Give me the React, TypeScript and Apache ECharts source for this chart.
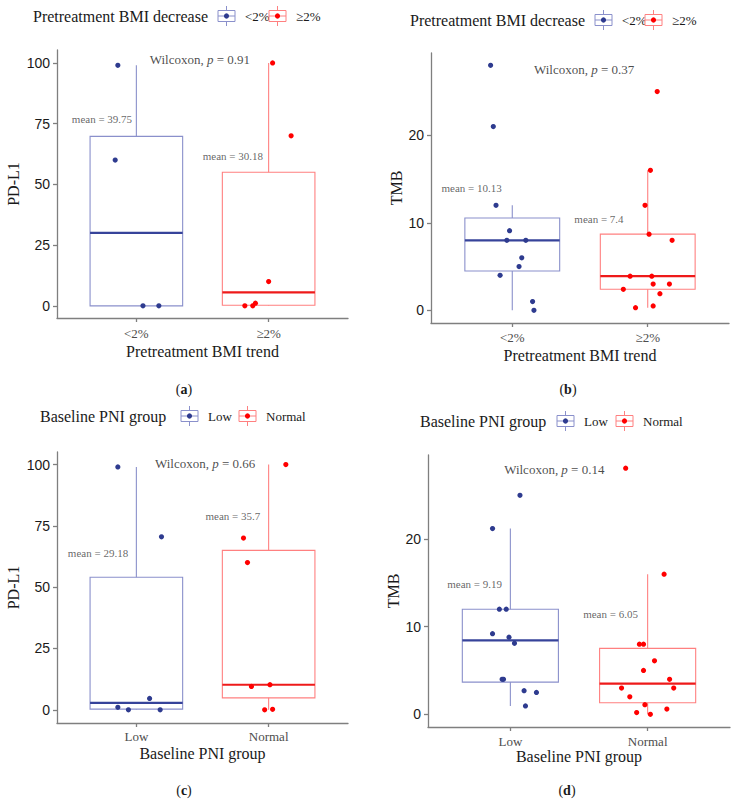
import React, { useEffect, useRef } from 'react';
import * as echarts from 'echarts';

// ---------- data ----------
const bmiCategories = ['<2%', '≥2%'];
const pniCategories = ['Low', 'Normal'];
const pdl1Ticks = [0, 25, 50, 75, 100];
const tmbTicks = [0, 10, 20];

// (a) PD-L1 by pretreatment BMI trend
const pdl1BmiLow = [99, 60, 0, 0];
const pdl1BmiLowJitter = [-0.14, -0.16, 0.05, 0.17];
const pdl1BmiHigh = [100, 70, 10, 0, 0, 1.1];
const pdl1BmiHighJitter = [0.03, 0.17, 0.0, -0.18, -0.12, -0.1];

// (b) TMB by pretreatment BMI trend
const tmbBmiLow = [28, 21, 12, 9.1, 8, 8, 6, 5, 4, 1, 0];
const tmbBmiLowJitter = [-0.16, -0.14, -0.12, -0.02, -0.04, 0.1, 0.07, 0.05, -0.09, 0.15, 0.16];
const tmbBmiHigh = [25, 16, 12, 8.7, 8, 3.9, 3.9, 3, 3, 2.4, 1.9, 0.5, 0.3];
const tmbBmiHighJitter = [0.07, 0.02, -0.02, 0.01, 0.18, -0.13, 0.03, 0.04, 0.16, -0.18, 0.09, 0.04, -0.09];

// (c) PD-L1 by baseline PNI group
const pdl1PniLow = [99, 70.5, 1, 0, 4.6, 0];
const pdl1PniLowJitter = [-0.14, 0.19, -0.14, -0.06, 0.1, 0.18];
const pdl1PniNormal = [100, 70, 60, 9.5, 10.2, 0, 0.2];
const pdl1PniNormalJitter = [0.13, -0.19, -0.16, -0.13, 0.01, -0.03, 0.03];

// (d) TMB by baseline PNI group
const tmbPniLow = [25, 21.2, 12, 12, 9.2, 8.8, 8.1, 4, 4, 2.7, 2.5, 0.95];
const tmbPniLowJitter = [0.07, -0.13, -0.08, -0.03, -0.13, -0.01, 0.03, -0.06, -0.05, 0.1, 0.19, 0.11];
const tmbPniNormal = [28.1, 16, 8, 8, 6.1, 5, 4, 3, 3, 2, 1.1, 0.6, 0.2, 0];
const tmbPniNormalJitter = [-0.16, 0.12, -0.06, -0.03, 0.05, -0.03, 0.16, -0.19, 0.19, -0.13, -0.02, 0.14, -0.08, 0.02];

const meanLabels = [
  ['mean = 39.75', 'mean = 30.18'],
  ['mean = 10.13', 'mean = 7.4'],
  ['mean = 29.18', 'mean = 35.7'],
  ['mean = 9.19', 'mean = 6.05'],
];
const pValues = ['0.91', '0.37', '0.66', '0.14'];

// ---------- styles ----------
const SERIF = '"Liberation Serif", "Times New Roman", serif';
const SANS = '"Liberation Sans", Arial, sans-serif';
const AXIS_GRAY = '#7f7f7f';
const palette = [
  { dark: '#2E3B8F', light: '#8A90CB', med: '#36439A' },
  { dark: '#FF0000', light: '#FF8080', med: '#EE1A1A' },
];

function quantile(sorted: number[], p: number) {
  const h = (sorted.length - 1) * p;
  const lo = Math.floor(h);
  const hi = Math.min(lo + 1, sorted.length - 1);
  return sorted[lo] + (h - lo) * (sorted[hi] - sorted[lo]);
}
function boxStats(values: number[]) {
  const s = [...values].sort((a, b) => a - b);
  const q1 = quantile(s, 0.25);
  const med = quantile(s, 0.5);
  const q3 = quantile(s, 0.75);
  const iqr = q3 - q1;
  const lo = Math.min(...s.filter((v) => v >= q1 - 1.5 * iqr));
  const hi = Math.max(...s.filter((v) => v <= q3 + 1.5 * iqr));
  return [lo, q1, med, q3, hi];
}

interface Panel {
  grid: any;
  cats: string[];
  groups: { values: number[]; jitter: number[] }[];
  yMin: number;
  yMax: number;
  ticks: number[];
  yName: string;
  xName: string;
  yNameGap: number;
  xNameGap: number;
  labelMargin: number;
  meanPos: number[][];
  wilcoxPos: number[];
}

const panels: Panel[] = [
  {
    grid: { left: 57, top: 50, width: 291, height: 268 },
    cats: bmiCategories,
    groups: [
      { values: pdl1BmiLow, jitter: pdl1BmiLowJitter },
      { values: pdl1BmiHigh, jitter: pdl1BmiHighJitter },
    ],
    yMin: -5, yMax: 105.3, ticks: pdl1Ticks,
    yName: 'PD-L1', xName: 'Pretreatment BMI trend',
    yNameGap: 36, xNameGap: 25, labelMargin: 9,
    meanPos: [[0.74, 77], [1.73, 61.8]],
    wilcoxPos: [1.48, 101.5],
  },
  {
    grid: { left: 431, top: 53, width: 298, height: 270 },
    cats: bmiCategories,
    groups: [
      { values: tmbBmiLow, jitter: tmbBmiLowJitter },
      { values: tmbBmiHigh, jitter: tmbBmiHighJitter },
    ],
    yMin: -1.45, yMax: 29.4, ticks: tmbTicks,
    yName: 'TMB', xName: 'Pretreatment BMI trend',
    yNameGap: 27, xNameGap: 24, labelMargin: 8,
    meanPos: [[0.7, 14.0], [1.64, 10.4]],
    wilcoxPos: [1.53, 27.5],
  },
  {
    grid: { left: 57, top: 452, width: 291, height: 271 },
    cats: pniCategories,
    groups: [
      { values: pdl1PniLow, jitter: pdl1PniLowJitter },
      { values: pdl1PniNormal, jitter: pdl1PniNormalJitter },
    ],
    yMin: -5.4, yMax: 105.1, ticks: pdl1Ticks,
    yName: 'PD-L1', xName: 'Baseline PNI group',
    yNameGap: 36, xNameGap: 22, labelMargin: 7,
    meanPos: [[0.71, 63.8], [1.73, 79]],
    wilcoxPos: [1.52, 100.5],
  },
  {
    grid: { left: 428, top: 455, width: 302, height: 272 },
    cats: pniCategories,
    groups: [
      { values: tmbPniLow, jitter: tmbPniLowJitter },
      { values: tmbPniNormal, jitter: tmbPniNormalJitter },
    ],
    yMin: -1.45, yMax: 29.6, ticks: tmbTicks,
    yName: 'TMB', xName: 'Baseline PNI group',
    yNameGap: 27, xNameGap: 20, labelMargin: 8,
    meanPos: [[0.74, 14.9], [1.73, 11.4]],
    wilcoxPos: [1.32, 28.0],
  },
];

function legendGraphic(left: number, cy: number, title: string, items: { x: number; label: string; ci: number }[]) {
  const children: any[] = [
    {
      type: 'text', x: left, y: cy,
      style: { text: title, font: `16px ${SERIF}`, fill: '#1a1a1a', verticalAlign: 'middle', align: 'left' },
    },
  ];
  items.forEach((it) => {
    const c = palette[it.ci];
    const w = 17, h = 11;
    const cx = it.x + w / 2;
    children.push(
      { type: 'line', shape: { x1: cx, y1: cy - 10, x2: cx, y2: cy + 10 }, style: { stroke: c.light, lineWidth: 1 } },
      { type: 'rect', shape: { x: it.x, y: cy - h / 2, width: w, height: h }, style: { fill: '#fff', stroke: c.light, lineWidth: 1 } },
      { type: 'line', shape: { x1: it.x, y1: cy, x2: it.x + w, y2: cy }, style: { stroke: c.light, lineWidth: 1 } },
      { type: 'circle', shape: { cx, cy, r: 2.6 }, style: { fill: c.dark } },
      {
        type: 'text', x: it.x + w + 10, y: cy,
        style: { text: it.label, font: `13px ${SERIF}`, fill: '#1a1a1a', verticalAlign: 'middle', align: 'left' },
      },
    );
  });
  return { type: 'group', children };
}

function panelLabel(cx: number, cy: number, letter: string) {
  return {
    type: 'text', x: cx, y: cy,
    style: {
      text: `({b|${letter}})`,
      font: `14px ${SERIF}`, fill: '#1a1a1a', align: 'center', verticalAlign: 'middle',
      rich: { b: { fontFamily: SERIF, fontSize: 14, fontWeight: 'bold', fill: '#1a1a1a' } },
    },
  };
}

function buildOption() {
  const grid: any[] = [];
  const xAxis: any[] = [];
  const yAxis: any[] = [];
  const series: any[] = [];

  panels.forEach((p, k) => {
    grid.push({ ...p.grid, containLabel: false });
    xAxis.push({
      gridIndex: k, type: 'value', min: 0.4, max: 2.6,
      splitLine: { show: false },
      axisLine: { show: true, onZero: false, lineStyle: { color: AXIS_GRAY, width: 1.3 } },
      axisTick: { show: true, customValues: [1, 2], length: 4, lineStyle: { color: AXIS_GRAY, width: 1.3 } },
      axisLabel: {
        customValues: [1, 2], formatter: (v: number) => p.cats[Math.round(v) - 1] ?? '',
        fontFamily: SERIF, fontSize: 13, color: '#4d4d4d', margin: p.labelMargin,
      },
      name: p.xName, nameLocation: 'middle', nameGap: p.xNameGap,
      nameTextStyle: { fontFamily: SERIF, fontSize: 16, color: '#1a1a1a' },
    });
    yAxis.push({
      gridIndex: k, type: 'value', min: p.yMin, max: p.yMax,
      splitLine: { show: false },
      axisLine: { show: true, onZero: false, lineStyle: { color: AXIS_GRAY, width: 1.3 } },
      axisTick: { show: true, customValues: p.ticks, length: 4, lineStyle: { color: AXIS_GRAY, width: 1.3 } },
      axisLabel: {
        customValues: p.ticks, fontFamily: SANS, fontSize: 14, color: '#1a1a1a', margin: 7,
      },
      name: p.yName, nameLocation: 'middle', nameGap: p.yNameGap, nameRotate: 90,
      nameTextStyle: { fontFamily: SERIF, fontSize: 16, color: '#1a1a1a' },
    });

    p.groups.forEach((g, gi) => {
      const c = palette[gi];
      const st = boxStats(g.values);
      series.push({
        type: 'custom', xAxisIndex: k, yAxisIndex: k, z: 1,
        encode: { x: 0, y: [1, 2, 3, 4, 5] },
        data: [[gi + 1, ...st]],
        renderItem: (_params: any, api: any) => {
          const x = api.value(0);
          const lo = api.value(1), q1 = api.value(2), med = api.value(3), q3 = api.value(4), hi = api.value(5);
          const half = 0.35;
          const tl = api.coord([x - half, q3]);
          const br = api.coord([x + half, q1]);
          const ml = api.coord([x - half, med]);
          const mr = api.coord([x + half, med]);
          const pHi = api.coord([x, hi]);
          const pQ3 = api.coord([x, q3]);
          const pQ1 = api.coord([x, q1]);
          const pLo = api.coord([x, lo]);
          return {
            type: 'group',
            children: [
              { type: 'line', shape: { x1: pHi[0], y1: pHi[1], x2: pQ3[0], y2: pQ3[1] }, style: { stroke: c.light, lineWidth: 1.1 } },
              { type: 'line', shape: { x1: pQ1[0], y1: pQ1[1], x2: pLo[0], y2: pLo[1] }, style: { stroke: c.light, lineWidth: 1.1 } },
              { type: 'rect', shape: { x: tl[0], y: tl[1], width: br[0] - tl[0], height: br[1] - tl[1] }, style: { fill: 'none', stroke: c.light, lineWidth: 1.1 } },
              { type: 'line', shape: { x1: ml[0], y1: ml[1], x2: mr[0], y2: mr[1] }, style: { stroke: c.med, lineWidth: 2.2 } },
            ],
          };
        },
      });
      series.push({
        type: 'scatter', xAxisIndex: k, yAxisIndex: k, z: 3,
        symbolSize: 5.2,
        itemStyle: { color: c.dark, opacity: 1 },
        data: g.values.map((v, i) => [gi + 1 + g.jitter[i], v]),
      });
    });

    // annotation texts
    series.push({
      type: 'scatter', xAxisIndex: k, yAxisIndex: k, z: 4,
      symbolSize: 1, itemStyle: { color: 'transparent' },
      data: [
        {
          value: p.meanPos[0],
          label: { show: true, position: 'inside', formatter: meanLabels[k][0], fontFamily: SERIF, fontSize: 11, color: '#404040' },
        },
        {
          value: p.meanPos[1],
          label: { show: true, position: 'inside', formatter: meanLabels[k][1], fontFamily: SERIF, fontSize: 11, color: '#404040' },
        },
        {
          value: p.wilcoxPos,
          label: {
            show: true, position: 'inside',
            formatter: `Wilcoxon, {i|p} = ${pValues[k]}`,
            fontFamily: SERIF, fontSize: 13, color: '#1a1a1a',
            rich: { i: { fontFamily: SERIF, fontSize: 13, fontStyle: 'italic', color: '#1a1a1a' } },
          },
        },
      ],
    });
  });

  const graphic = [
    legendGraphic(33, 16, 'Pretreatment BMI decrease', [
      { x: 218, label: bmiCategories[0], ci: 0 },
      { x: 269, label: bmiCategories[1], ci: 1 },
    ]),
    legendGraphic(410, 20, 'Pretreatment BMI decrease', [
      { x: 595, label: bmiCategories[0], ci: 0 },
      { x: 645, label: bmiCategories[1], ci: 1 },
    ]),
    legendGraphic(40, 416, 'Baseline PNI group', [
      { x: 181, label: pniCategories[0], ci: 0 },
      { x: 239, label: pniCategories[1], ci: 1 },
    ]),
    legendGraphic(420, 421, 'Baseline PNI group', [
      { x: 557, label: pniCategories[0], ci: 0 },
      { x: 616, label: pniCategories[1], ci: 1 },
    ]),
    panelLabel(184, 389, 'a'),
    panelLabel(568, 389, 'b'),
    panelLabel(184, 790, 'c'),
    panelLabel(567, 790, 'd'),
  ];

  return {
    animation: false,
    backgroundColor: '#ffffff',
    textStyle: { fontFamily: SERIF },
    grid, xAxis, yAxis, series, graphic,
  };
}

export default function App() {
  const ref = useRef<HTMLDivElement>(null);
  useEffect(() => {
    if (!ref.current) return;
    const chart = echarts.init(ref.current, undefined, { renderer: 'svg' });
    chart.setOption(buildOption() as any);
    return () => chart.dispose();
  }, []);
  return (
    <div
      ref={ref}
      style={{ position: 'absolute', left: 0, top: 0, width: 736, height: 803, background: '#fff' }}
    />
  );
}
